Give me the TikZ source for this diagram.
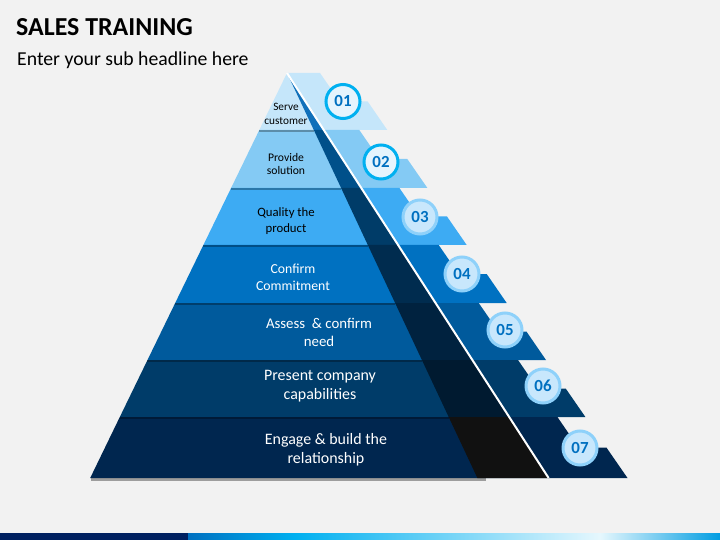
\documentclass[tikz,border=0pt]{standalone}
\usepackage{fontspec}
\setmainfont{Carlito}
\usepackage{tikz}

\definecolor{pagegray}{HTML}{F2F2F2}
\definecolor{bandA}{HTML}{C5E6FA}
\definecolor{bandB}{HTML}{84CAF4}
\definecolor{bandC}{HTML}{3DABF3}
\definecolor{bandD}{HTML}{0071C1}
\definecolor{bandE}{HTML}{005A9C}
\definecolor{bandF}{HTML}{003C69}
\definecolor{bandG}{HTML}{00264F}
\definecolor{shadeA}{HTML}{1070BA}
\definecolor{shadeB}{HTML}{00508A}
\definecolor{shadeC}{HTML}{003C68}
\definecolor{shadeD}{HTML}{002C4F}
\definecolor{shadeE}{HTML}{00223F}
\definecolor{shadeF}{HTML}{001A30}
\definecolor{shadeG}{HTML}{111111}
\definecolor{ringcyan}{HTML}{00B0F0}
\definecolor{ringpale}{HTML}{8ED1FA}
\definecolor{numfill}{HTML}{C8E7FC}
\definecolor{numtext}{HTML}{0070C0}
\definecolor{barnavy}{HTML}{002060}

\begin{document}
\begin{tikzpicture}[x=1bp,y=-1bp,
  lbl/.style={align=center,inner sep=0pt},
  numdisc/.style={circle,minimum size=34bp,inner sep=0pt,line width=3bp,
    fill=numfill,draw=ringpale,text=numtext,font=\fontsize{17}{17}\selectfont\bfseries},
  numtop/.style={numdisc,fill=white!55!bandA,draw=ringcyan},
  bandshadow/.style={black,opacity=0.3,line width=2bp}]
  \useasboundingbox (0,0) rectangle (720,540);
  \fill[pagegray] (0,0) rectangle (720,540);

  % heading
  \node[anchor=base west,inner sep=0pt,font=\fontsize{26}{26}\selectfont\bfseries] (title) at (16,36) {SALES TRAINING};
  \node[anchor=base west,inner sep=0pt,font=\fontsize{19.8}{20}\selectfont] (subtitle) at (17,66) {Enter your sub headline here};

  % bands with their steps
  \fill[bandA] (287,73)--(320,73)--(339.7,101.5)--(367.7,101.5)--(387.3,130)--(259.3,130)--cycle;
  \fill[bandB] (259.3,130)--(359.3,130)--(379.3,159)--(407.3,159)--(427.4,188)--(231.1,188)--cycle;
  \fill[bandC] (231.1,188)--(399.4,188)--(419,216.5)--(447,216.5)--(466.7,245)--(203.4,245)--cycle;
  \fill[bandD] (203.4,245)--(438.7,245)--(458.7,274)--(486.7,274)--(506.7,303)--(175.2,303)--cycle;
  \fill[bandE] (175.2,303)--(478.7,303)--(498.4,331.5)--(526.4,331.5)--(546,360)--(147.5,360)--cycle;
  \fill[bandF] (147.5,360)--(518,360)--(537.7,388.5)--(565.7,388.5)--(585.4,417)--(119.8,417)--cycle;
  \fill[bandG] (119.8,417)--(557.4,417)--(578.4,447.5)--(606.4,447.5)--(627.5,478)--(90.2,478)--cycle;

  % dark side of the pyramid
  \fill[shadeA] (287,73)--(323.8,130)--(313.8,130)--cycle;
  \fill[shadeB] (313.8,130)--(323.8,130)--(361.3,188)--(341.1,188)--cycle;
  \fill[shadeC] (341.1,188)--(361.3,188)--(398.1,245)--(367.8,245)--cycle;
  \fill[shadeD] (367.8,245)--(398.1,245)--(435.6,303)--(395.1,303)--cycle;
  \fill[shadeE] (395.1,303)--(435.6,303)--(472.4,360)--(421.9,360)--cycle;
  \fill[shadeF] (421.9,360)--(472.4,360)--(509.2,417)--(448.7,417)--cycle;
  \fill[shadeG] (448.7,417)--(509.2,417)--(548.6,478)--(477.4,478)--cycle;

  % shadows under the bands
  \draw[bandshadow] (259,131)--(314,131);
  \draw[bandshadow] (231,189)--(341,189);
  \draw[bandshadow] (203,246)--(368,246);
  \draw[bandshadow] (175,304)--(395,304);
  \draw[bandshadow] (147,361)--(422,361);
  \draw[bandshadow] (120,418)--(449,418);
  \draw[black,opacity=0.35,line width=2.5bp] (91,479.5)--(486,479.5);

  \draw[white,line width=2bp] (287,73)--(548.6,478);

  % labels
  \node[lbl,font=\fontsize{11.3}{14}\selectfont] (serve) at (286,114) {Serve\\customer};
  \node[lbl,font=\fontsize{11.7}{14}\selectfont] (provide) at (286,164) {Provide\\solution};
  \node[lbl,font=\fontsize{12.8}{16}\selectfont] (quality) at (286,221.5) {Quality the\\product};
  \node[lbl,white,font=\fontsize{13.8}{17}\selectfont] (confirm) at (293,277) {Confirm\\Commitment};
  \node[lbl,white,font=\fontsize{14.9}{18}\selectfont] (assess) at (319,332.5) {Assess~ \& confirm\\need};
  \node[lbl,white,font=\fontsize{16}{19}\selectfont] (present) at (320,386) {Present company\\capabilities};
  \node[lbl,white,font=\fontsize{16}{19}\selectfont] (engage) at (326,450) {Engage \& build the\\relationship};

  % numbers
  \node[numtop] (n1) at (343,101.5) {01};
  \node[numtop] (n2) at (381,162) {02};
  \node[numdisc] (n3) at (420,217) {03};
  \node[numdisc] (n4) at (462,274) {04};
  \node[numdisc] (n5) at (505,330) {05};
  \node[numdisc] (n6) at (543,386) {06};
  \node[numdisc] (n7) at (580,448) {07};

  % bottom bar
  \fill[barnavy] (0,533) rectangle (188,540);
  \shade[left color=numtext,right color=ringcyan] (188,533) rectangle (295,540);
  \shade[left color=ringcyan,right color=white!90!ringcyan] (295,533) rectangle (600,540);
  \shade[left color=white!90!ringcyan,right color=ringcyan!70!numtext] (600,533) rectangle (720,540);
\end{tikzpicture}
\end{document}
